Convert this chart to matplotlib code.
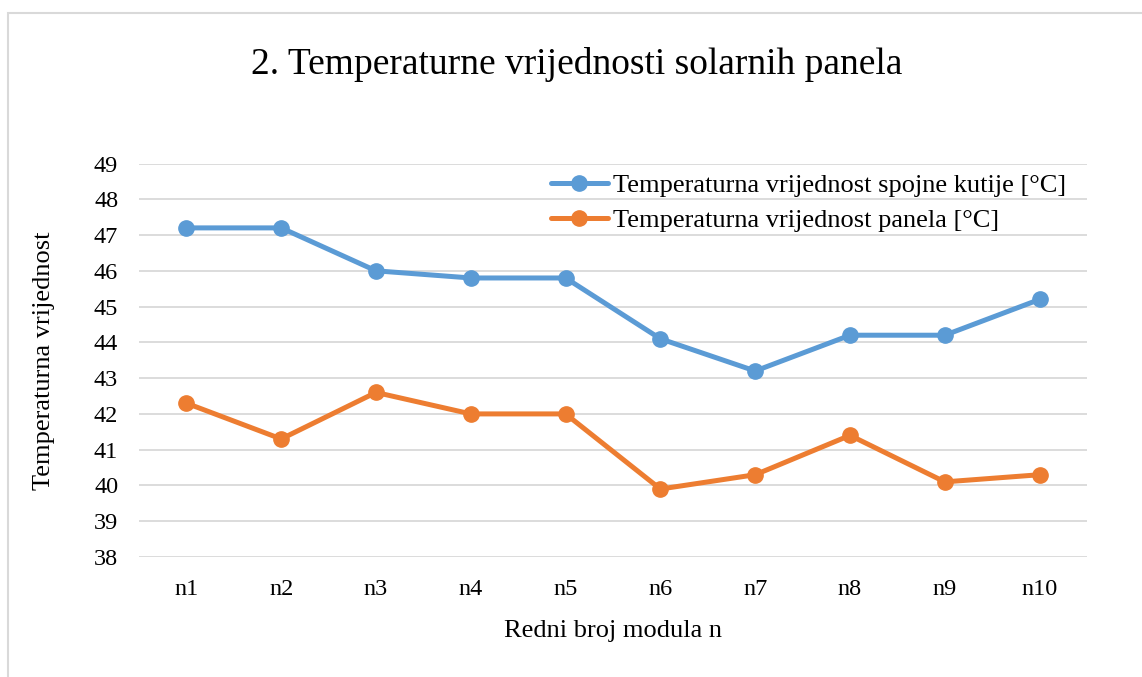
import matplotlib.pyplot as plt
from matplotlib.patches import Rectangle

plt.rcParams['font.family'] = ['Liberation Serif', 'DejaVu Serif']

moduli = ['n1', 'n2', 'n3', 'n4', 'n5', 'n6', 'n7', 'n8', 'n9', 'n10']
spojna_kutija = [47.2, 47.2, 46.0, 45.8, 45.8, 44.1, 43.2, 44.2, 44.2, 45.2]
panel = [42.3, 41.3, 42.6, 42.0, 42.0, 39.9, 40.3, 41.4, 40.1, 40.3]
y_ticks = list(range(38, 50))

W, H = 1142, 677
fig = plt.figure(figsize=(W / 100, H / 100), dpi=100)

# okvir grafikona (desni i donji rub izvan slike)
fig.patches.append(Rectangle((7.5 / W, -0.05), 1.1, 1 - 13 / H + 0.05,
                             transform=fig.transFigure, fill=False,
                             edgecolor='#D9D9D9', linewidth=1.5))

ax = fig.add_axes([139 / W, 1 - 557 / H, (1087 - 139) / W, (557 - 163.5) / H])

x = list(range(len(moduli)))
ax.plot(x, spojna_kutija, color='#5B9BD5', lw=3.6, marker='o', ms=11,
        solid_capstyle='round', label='Temperaturna vrijednost spojne kutije [°C]')
ax.plot(x, panel, color='#ED7D31', lw=3.6, marker='o', ms=11,
        solid_capstyle='round', label='Temperaturna vrijednost panela [°C]')

ax.set_xlim(-0.5, len(moduli) - 0.5)
ax.set_ylim(38, 49)
ax.set_yticks(y_ticks)
ax.set_xticks(x)
ax.set_xticklabels(moduli)
ax.tick_params(axis='both', length=0, labelsize=17.5)
ax.tick_params(axis='x', pad=16)
ax.tick_params(axis='y', pad=15)
ax.grid(axis='y', color='#D9D9D9', lw=1.3)
ax.set_axisbelow(True)
for s in ax.spines.values():
    s.set_visible(False)

ax.set_xlabel('Redni broj modula n', fontsize=19)
ax.set_ylabel('Temperaturna vrijednost', fontsize=19)
ax.xaxis.set_label_coords(0.5, (557 - 631) / 393.5)
ax.xaxis.label.set_va('center')
ax.yaxis.set_label_coords((44 - 139) / 948, 0.5)
ax.yaxis.label.set_va('center')

fig.text(576.5 / W, 1 - 65 / H, '2. Temperaturne vrijednosti solarnih panela',
         ha='center', va='center', fontsize=27)

ax.legend(loc='upper left', bbox_to_anchor=((551 - 139) / 948, (557 - 174) / 393.5),
          frameon=False, fontsize=19, handlelength=2.15, handletextpad=0.2,
          labelspacing=0.42, borderpad=0, borderaxespad=0)

fig.savefig('out.png', dpi=100)
